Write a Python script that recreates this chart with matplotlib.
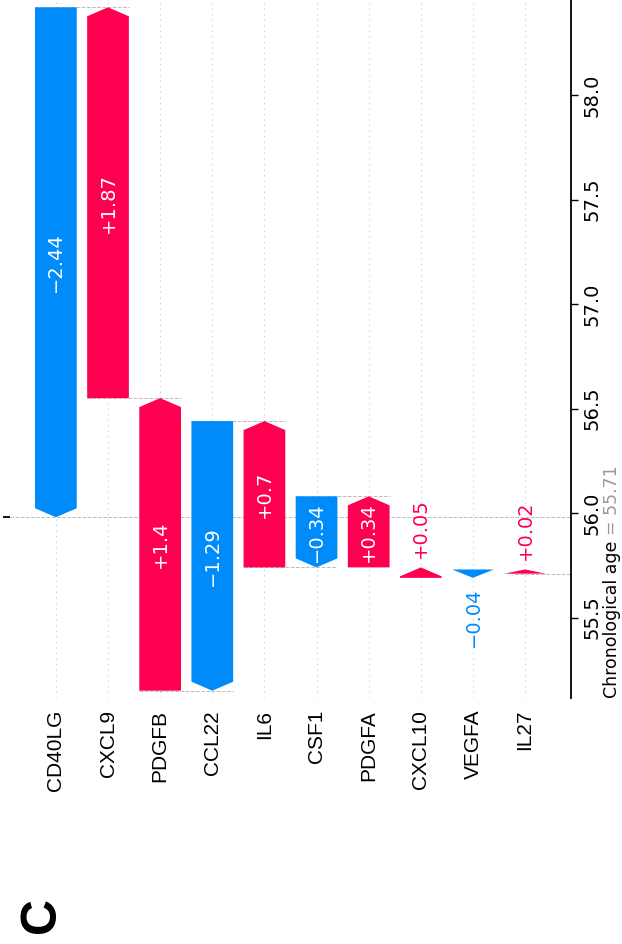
import matplotlib

matplotlib.use("Agg")

import matplotlib.pyplot as plt
from matplotlib.patches import Polygon

features = ["CD40LG", "CXCL9", "PDGFB", "CCL22", "IL6", "CSF1", "PDGFA", "CXCL10", "VEGFA", "IL27"]
shap_values = [-2.44, 1.87, 1.4, -1.29, 0.7, -0.34, 0.34, 0.05, -0.04, 0.02]
base_value = 55.71
value_ticks = [55.5, 56.0, 56.5, 57.0, 57.5, 58.0]
base_label = "Chronological age"
panel_label = "C"

RED = "#ff0051"
BLUE = "#008bfb"
BAR_HALF = 0.4
HEAD = 0.043


def _fmt(v: float) -> str:
    s = f"{abs(v):.2f}".rstrip("0").rstrip(".")
    return ("+" if v >= 0 else "\u2212") + s


n = len(features)
# cumulative: start from the base at the last feature and walk up to the first
starts = [0.0] * n
ends = [0.0] * n
loc = base_value
for i in range(n - 1, -1, -1):
    starts[i] = loc
    loc += shap_values[i]
    ends[i] = loc
fx = loc

fig = plt.figure(figsize=(6.22, 9.44), dpi=100)
ax = fig.add_axes([10 / 622, 1 - 698 / 944, 561 / 622, 698 / 944])
ax.set_xlim(-0.88, 9.88)
ax.set_ylim(55.115, 58.455)

for side in ("left", "top", "bottom"):
    ax.spines[side].set_visible(False)
ax.spines["right"].set_linewidth(1.3)

# row guides
for i in range(n):
    ax.axvline(i, color="#c8c8c8", lw=0.8, dashes=(1, 4), zorder=-1)

ax.axhline(fx, color="#bbbbbb", ls="--", lw=0.7, zorder=-1)
ax.axhline(base_value, xmin=1 - 1 / n, xmax=1, color="#bbbbbb", ls="--", lw=0.7, zorder=-1)

for i in range(n):
    if i + 4 < n:
        ax.plot([i - 0.4, i + 1.4], [starts[i], starts[i]], color="#bbbbbb", ls="--", lw=0.7, zorder=-1)

renderer = fig.canvas.get_renderer()
for i in range(n):
    y0, y1 = starts[i], ends[i]
    s = 1 if y1 >= y0 else -1
    hl = min(HEAD, abs(y1 - y0))
    color = RED if s > 0 else BLUE
    pts = [
        (i - BAR_HALF, y0),
        (i + BAR_HALF, y0),
        (i + BAR_HALF, y1 - s * hl),
        (i, y1),
        (i - BAR_HALF, y1 - s * hl),
    ]
    ax.add_patch(Polygon(pts, closed=True, facecolor=color, edgecolor="none", lw=0, zorder=2))

    txt = ax.text(i, (y0 + y1) / 2, _fmt(shap_values[i]), rotation=90, ha="center", va="center",
                  color="white", fontsize=14, zorder=3)
    bar_px = abs(ax.transData.transform((0, y1))[1] - ax.transData.transform((0, y0))[1])
    if txt.get_window_extent(renderer).height > bar_px - 4:
        txt.remove()
        ax.annotate(_fmt(shap_values[i]), xy=(i, y1), xytext=(0, 7 * s), textcoords="offset points",
                    rotation=90, ha="center", va="bottom" if s > 0 else "top",
                    color=color, fontsize=14, zorder=3)

# value axis on the right
ax.yaxis.tick_right()
ax.set_yticks(value_ticks, [f"{t:.1f}" for t in value_ticks])
ax.tick_params(axis="y", direction="out", length=5, width=1.0, labelsize=14, labelrotation=90, pad=3.5)
for lbl in ax.get_yticklabels():
    lbl.set_va("center")
    lbl.set_ha("left")

ax.set_xticks(range(n), features, fontfamily="Liberation Sans", fontsize=15, rotation=90)
ax.tick_params(axis="x", length=0, pad=8.6)

# f(x) tick on the opposite side
sec = ax.secondary_yaxis("left")
sec.set_yticks([fx], [""])
sec.spines["left"].set_visible(False)
sec.tick_params(length=5, width=1.3)

t1 = ax.annotate(base_label, xy=(1, 0), xycoords="axes fraction", xytext=(29.5, 0),
                 textcoords="offset points", rotation=90, ha="center", va="bottom", fontsize=12.5)
ax.annotate(f"= {base_value:.2f}", xy=(0.5, 1), xycoords=t1, xytext=(0, 4),
            textcoords="offset points", rotation=90, ha="center", va="bottom",
            color="#999999", fontsize=12.5)

fig.text(42 / 622, 1 - 915 / 944, panel_label, rotation=90, ha="center", va="center",
         fontsize=36, fontweight="bold", fontfamily="Liberation Sans")

fig.savefig("out.png", dpi=100)
plt.close(fig)
